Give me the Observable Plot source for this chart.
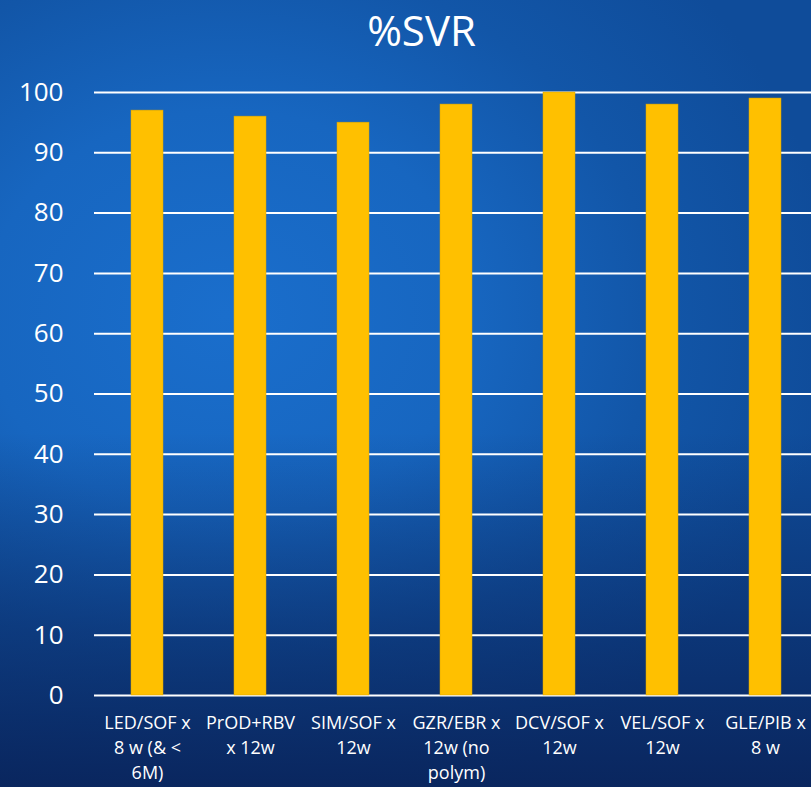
<!DOCTYPE html>
<html>
<head>
<meta charset="utf-8">
<script src="https://cdn.jsdelivr.net/npm/d3@7"></script>
<script src="https://cdn.jsdelivr.net/npm/@observablehq/plot@0.6"></script>
<style>
  html, body { margin: 0; padding: 0; }
  body {
    width: 811px; height: 787px; overflow: hidden;
    background:
      linear-gradient(to bottom, rgba(10,38,95,0) 0%, rgba(10,38,95,0) 55%, rgba(9,36,92,0.55) 80%, rgba(9,34,88,0.9) 100%),
      radial-gradient(ellipse 75% 65% at 28% 40%, #1a6ecc 0%, #1766c0 40%, #1256a8 70%, #0f4c9a 100%);
    font-family: "Open Sans", sans-serif;
    color: #fff;
  }
  #title {
    height: 60px; line-height: 60px; font-size: 42px;
    width: 811px; padding-left: 32px; box-sizing: border-box;
    text-align: center; color: #fff;
  }
  #chart { width: 818px; }
  #chart svg { display: block; overflow: visible; max-width: none !important; }
</style>
</head>
<body>
<div id="title">%SVR</div>
<div id="chart"></div>
<script>
const categories = ["LED/SOF", "PrOD+RBV", "SIM/SOF", "GZR/EBR", "DCV/SOF", "VEL/SOF", "GLE/PIB"];
const labels = [
  "LED/SOF x\n8 w (& <\n6M)",
  "PrOD+RBV\nx 12w",
  "SIM/SOF x\n12w",
  "GZR/EBR x\n12w (no\npolym)",
  "DCV/SOF x\n12w",
  "VEL/SOF x\n12w",
  "GLE/PIB x\n8 w"
];
const svr = [97, 96, 95, 98, 100, 98, 99];
const yTicks = [0, 10, 20, 30, 40, 50, 60, 70, 80, 90, 100];

const data = categories.map((c, i) => ({category: c, label: labels[i], value: svr[i]}));
const labelOf = new Map(categories.map((c, i) => [c, labels[i]]));

const chart = Plot.plot({
  width: 818,
  height: 727,
  marginTop: 32,
  marginBottom: 92,
  marginLeft: 94,
  marginRight: 1,
  style: {background: "transparent", color: "#fff", fontFamily: "'Open Sans', sans-serif", maxWidth: "none"},
  x: {domain: categories, paddingInner: 0.69, paddingOuter: 0.345, align: 0.5},
  y: {domain: [0, 100]},
  marks: [
    Plot.ruleY(yTicks, {stroke: "#ffffff", strokeWidth: 2}),
    Plot.barY(data, {x: "category", y: "value", fill: "#ffc000", stroke: "#d9a400", strokeWidth: 0.5}),
    Plot.axisY({ticks: yTicks, tickSize: 0, tickPadding: 31, fontSize: 26, label: null, fill: "#fff"}),
    Plot.axisX({tickSize: 0, tickPadding: 16, fontSize: 18, lineHeight: 1.38, label: null, fill: "#fff",
      tickFormat: d => labelOf.get(d)})
  ]
});
document.getElementById("chart").appendChild(chart);
</script>
</body>
</html>
